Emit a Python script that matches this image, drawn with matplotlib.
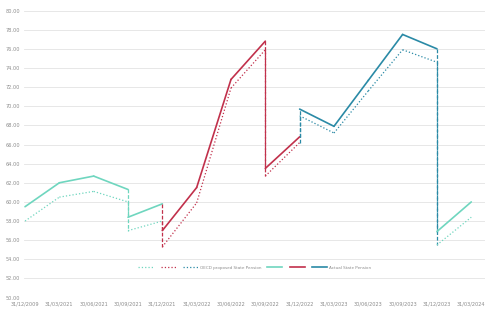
import matplotlib
matplotlib.use("Agg")
import matplotlib.pyplot as plt

# quarter labels on the category axis
quarters = ["31/12/2009", "31/03/2021", "30/06/2021", "30/09/2021", "31/12/2021",
            "31/03/2022", "30/06/2022", "30/09/2022", "31/12/2022", "31/03/2023",
            "30/06/2023", "30/09/2023", "31/12/2023", "31/03/2024"]

# actual state pension, one piece per colour (repeated index = vertical drop)
teal_act_x = [0, 1, 2, 3, 3, 4]
teal_act_y = [59.5, 62.0, 62.7, 61.3, 58.4, 59.8]
red_act_x = [4, 4, 5, 6, 7, 7, 8]
red_act_y = [59.8, 57.0, 61.5, 72.8, 76.8, 63.5, 66.8]
blue_act_x = [8, 8, 9, 10, 11, 12, 12]
blue_act_y = [66.8, 69.7, 67.9, 72.7, 77.5, 76.0, 56.9]
teal2_act_x = [12, 13]
teal2_act_y = [56.9, 60.0]

# OECD proposed state pension
teal_oecd_x = [0, 1, 2, 3, 3, 4]
teal_oecd_y = [58.0, 60.5, 61.1, 60.0, 57.0, 58.0]
red_oecd_x = [4, 4, 5, 6, 7, 7, 8]
red_oecd_y = [58.0, 55.3, 59.9, 71.9, 75.9, 62.7, 66.2]
blue_oecd_x = [8, 8, 9, 10, 11, 12, 12]
blue_oecd_y = [66.2, 69.0, 67.2, 71.6, 75.9, 74.6, 55.5]
teal2_oecd_x = [12, 13]
teal2_oecd_y = [55.5, 58.4]

TEAL = "#6fd6bf"
RED = "#c1304b"
BLUE = "#2a8aa6"
GREY = "#8c8c8c"


def draw(ax, xs, ys, color, style, lw):
    # slanted pieces in the series style, same-quarter drops dashed
    for i in range(len(xs) - 1):
        seg_x = xs[i:i + 2]
        seg_y = ys[i:i + 2]
        if seg_x[0] == seg_x[1]:
            ax.plot(seg_x, seg_y, color=color, lw=0.9, ls=(0, (3, 1.5)), zorder=3)
        else:
            ax.plot(seg_x, seg_y, color=color, lw=lw, ls=style, zorder=3,
                    solid_capstyle="round")


fig = plt.figure(figsize=(5, 3.1), dpi=100)
ax = fig.add_axes([0.048, 0.04, 0.922, 0.926])

draw(ax, teal_oecd_x, teal_oecd_y, TEAL, ":", 0.9)
draw(ax, red_oecd_x, red_oecd_y, RED, ":", 0.9)
draw(ax, blue_oecd_x, blue_oecd_y, BLUE, ":", 0.9)
draw(ax, teal2_oecd_x, teal2_oecd_y, TEAL, ":", 0.9)
draw(ax, teal_act_x, teal_act_y, TEAL, "-", 1.2)
draw(ax, red_act_x, red_act_y, RED, "-", 1.2)
draw(ax, blue_act_x, blue_act_y, BLUE, "-", 1.2)
draw(ax, teal2_act_x, teal2_act_y, TEAL, "-", 1.2)

ax.set_ylim(50, 80)
ax.set_xlim(-0.03, 13.4)
ax.set_yticks(range(50, 81, 2))
ax.set_yticklabels([f"{v:.2f}" for v in range(50, 81, 2)])
ax.set_xticks(range(len(quarters)))
ax.set_xticklabels(quarters)
ax.tick_params(axis="both", length=0, labelsize=3.6, colors=GREY, pad=3)
ax.grid(axis="y", color="#e3e3e3", lw=0.6)
ax.set_axisbelow(True)
for s in ax.spines.values():
    s.set_visible(False)

# legend: six handles, only two with text
handles = [
    plt.Line2D([], [], color=TEAL, ls=":", lw=0.9),
    plt.Line2D([], [], color=RED, ls=":", lw=0.9),
    plt.Line2D([], [], color=BLUE, ls=":", lw=0.9),
    plt.Line2D([], [], color=TEAL, lw=1.2),
    plt.Line2D([], [], color=RED, lw=1.2),
    plt.Line2D([], [], color=BLUE, lw=1.2),
]
labels = ["", "", "OECD proposed State Pension", "", "", "Actual State Pension"]
leg = ax.legend(handles, labels, loc="center", bbox_to_anchor=(0.5, 0.104),
                ncol=6, frameon=False, fontsize=3.0, handlelength=3.6,
                handletextpad=0.3, columnspacing=1.5)
for t in leg.get_texts():
    t.set_color(GREY)

fig.savefig("out.png", dpi=100, facecolor="white")
